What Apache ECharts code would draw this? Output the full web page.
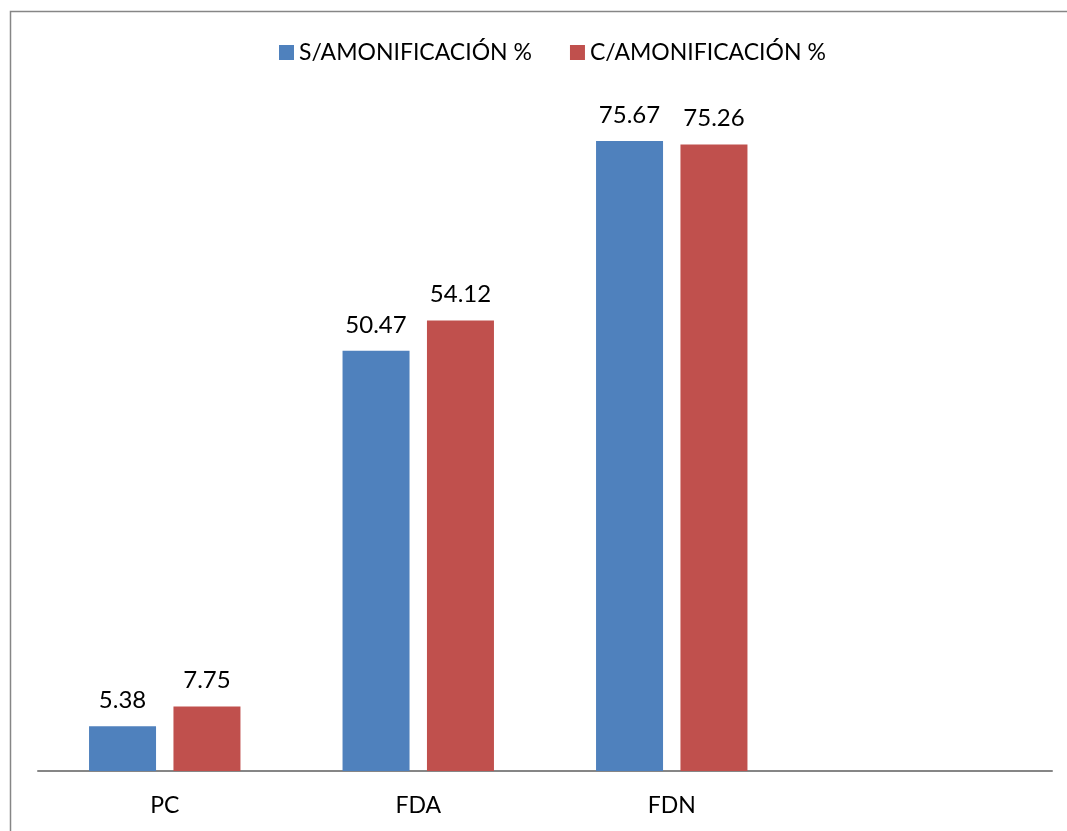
<!DOCTYPE html>
<html>
<head>
<meta charset="utf-8">
<script src="https://cdn.jsdelivr.net/npm/echarts@6/dist/echarts.min.js"></script>
<style>
  html, body { margin: 0; padding: 0; background: #fff; }
  #chart { width: 1067px; height: 831px; }
</style>
</head>
<body>
<div id="chart"></div>
<script>
// categorias (la cuarta queda vacia, como en el original)
const categories = ['PC', 'FDA', 'FDN', ''];
const seriesNames = ['S/AMONIFICACIÓN %', 'C/AMONIFICACIÓN %'];
const sinAmon = [5.38, 50.47, 75.67, null];
const conAmon = [7.75, 54.12, 75.26, null];

const FONT = 'Lato, "Open Sans", sans-serif';

const chart = echarts.init(document.getElementById('chart'));

function barSeries(name, data, color) {
    return {
        name,
        type: 'bar',
        data,
        barWidth: 67,
        barGap: '26%',
        itemStyle: { color },
        label: {
            show: true,
            position: 'top',
            distance: 14,
            color: '#000',
            fontSize: 24,
            fontFamily: FONT,
            formatter: p => p.value.toFixed(2),
        },
    };
}

chart.setOption({
    animation: false,
    backgroundColor: '#fff',
    graphic: [{
        type: 'rect',
        shape: { x: 10.5, y: 11.5, width: 1200, height: 1000 },
        style: { fill: 'none', stroke: '#868686', lineWidth: 1.5 },
        silent: true,
    }],
    legend: {
        top: 36,
        left: 274,
        itemWidth: 15,
        itemHeight: 15,
        itemGap: 38,
        icon: 'rect',
        textStyle: { fontSize: 23, fontFamily: FONT, color: '#000' },
        data: seriesNames,
    },
    grid: { left: 38, right: 15, top: 105, bottom: 60, containLabel: false },
    xAxis: {
        type: 'category',
        data: categories,
        axisLine: { lineStyle: { color: '#868686', width: 2 } },
        axisTick: { show: false },
        axisLabel: { color: '#000', fontSize: 23, fontFamily: FONT, margin: 23 },
    },
    yAxis: {
        type: 'value',
        min: 0,
        max: 80,
        show: false,
        splitLine: { show: false },
    },
    series: [
        barSeries(seriesNames[0], sinAmon, '#4F81BD'),
        barSeries(seriesNames[1], conAmon, '#C0504D'),
    ],
}, true);
</script>
</body>
</html>
